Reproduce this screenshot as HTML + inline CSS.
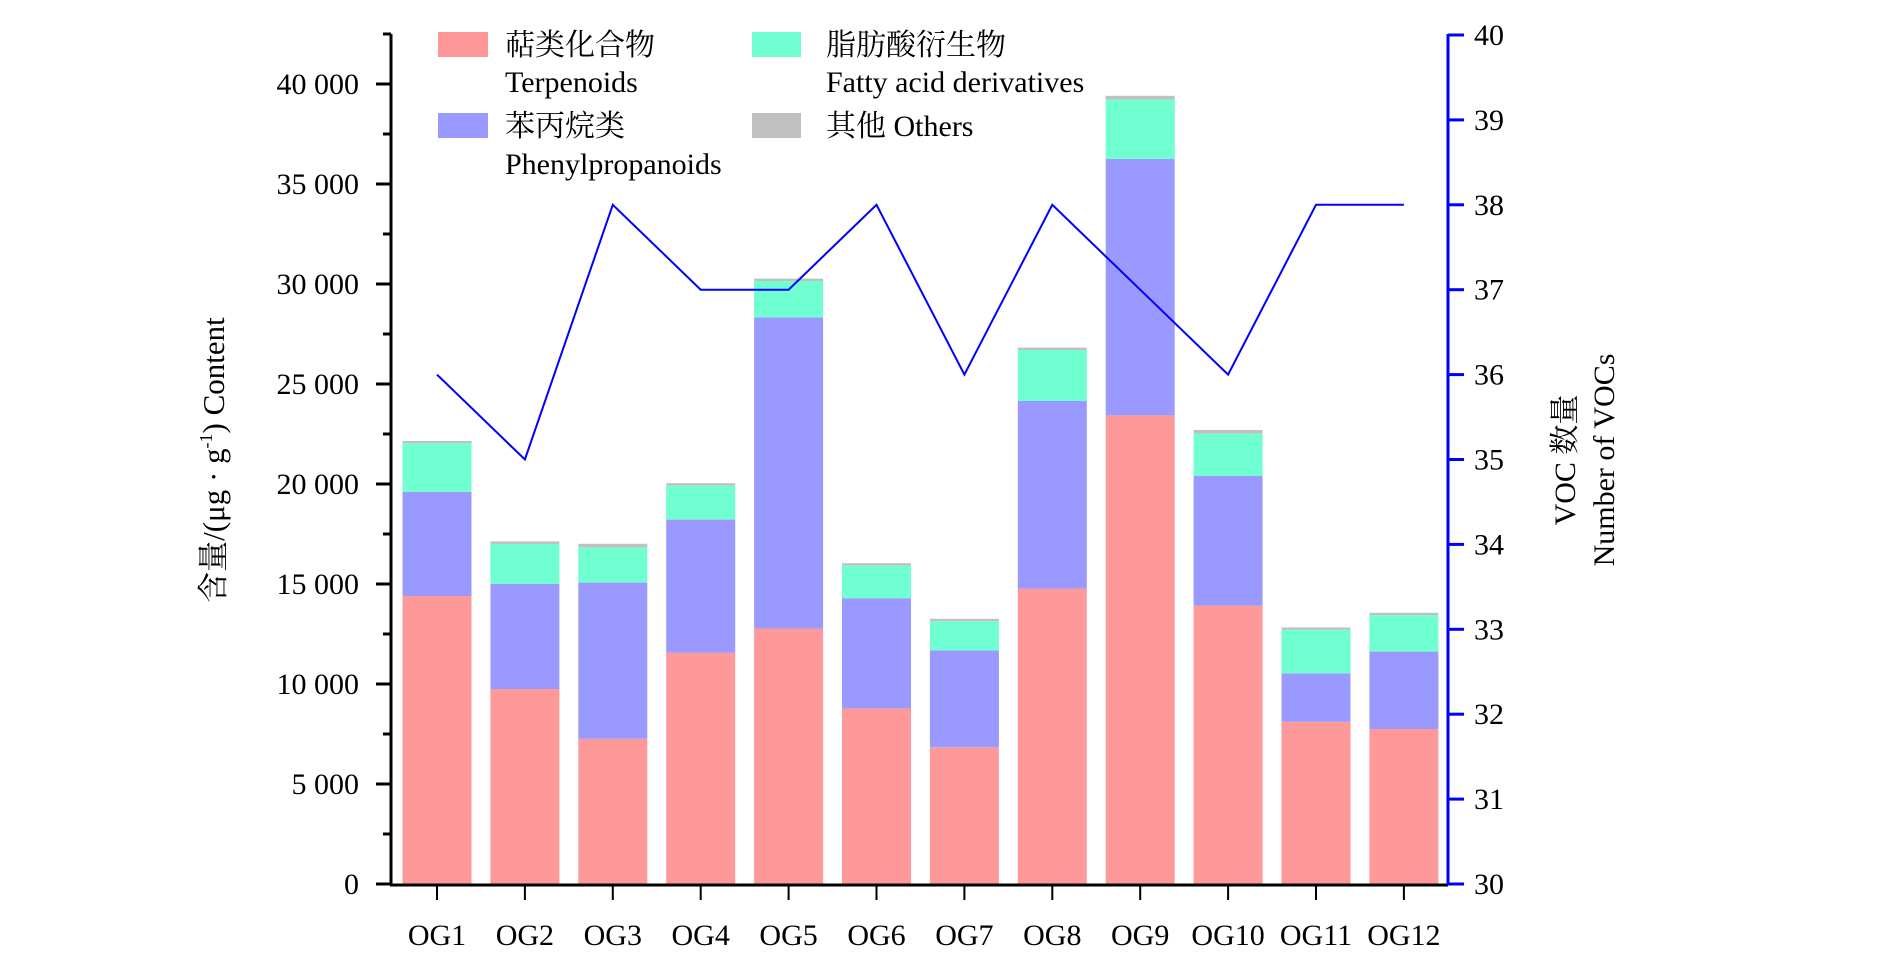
<!DOCTYPE html>
<html><head><meta charset="utf-8"><style>
html,body{margin:0;padding:0;background:#fff;}
svg{display:block;font-family:"Liberation Serif","Noto Serif CJK SC","Noto Sans CJK SC",serif;}
</style></head><body>
<svg width="1890" height="957" viewBox="0 0 1890 957" xmlns="http://www.w3.org/2000/svg">
<g id="bars"></g>
<!-- left axis -->
<line x1="391" y1="34" x2="391" y2="885" stroke="#000" stroke-width="3"/>
<g stroke="#000" stroke-width="3">
<line x1="376" y1="884" x2="391" y2="884"/><line x1="383" y1="834" x2="391" y2="834"/>
<line x1="376" y1="784" x2="391" y2="784"/><line x1="383" y1="734" x2="391" y2="734"/>
<line x1="376" y1="684" x2="391" y2="684"/><line x1="383" y1="634" x2="391" y2="634"/>
<line x1="376" y1="584" x2="391" y2="584"/><line x1="383" y1="534" x2="391" y2="534"/>
<line x1="376" y1="484" x2="391" y2="484"/><line x1="383" y1="434" x2="391" y2="434"/>
<line x1="376" y1="384" x2="391" y2="384"/><line x1="383" y1="334" x2="391" y2="334"/>
<line x1="376" y1="284" x2="391" y2="284"/><line x1="383" y1="234" x2="391" y2="234"/>
<line x1="376" y1="184" x2="391" y2="184"/><line x1="383" y1="134" x2="391" y2="134"/>
<line x1="376" y1="84" x2="391" y2="84"/><line x1="383" y1="34" x2="391" y2="34"/>
</g>
<g font-size="30" text-anchor="end">
<text x="359" y="894">0</text><text x="359" y="794">5 000</text><text x="359" y="694">10 000</text>
<text x="359" y="594">15 000</text><text x="359" y="494">20 000</text><text x="359" y="394">25 000</text>
<text x="359" y="294">30 000</text><text x="359" y="194">35 000</text><text x="359" y="94">40 000</text>
</g>
<!-- bottom axis -->
<line x1="390" y1="885" x2="1448" y2="885" stroke="#000" stroke-width="3"/>
<g id="xt" stroke="#000" stroke-width="2"></g>
<g id="xl" font-size="30" text-anchor="middle"></g>
<!-- right axis -->
<line x1="1448" y1="34" x2="1448" y2="885" stroke="#0000ff" stroke-width="3"/>
<g id="rt" stroke="#0000ff" stroke-width="3"></g>
<g id="rl" font-size="30"></g>
<polyline id="ln" fill="none" stroke="#0000ff" stroke-width="2"/>
<!-- axis titles -->
<text transform="translate(224,460) rotate(-90)" font-size="31" text-anchor="middle">含量/(μg · g<tspan font-size="18" dy="-12">-1</tspan><tspan dy="12">)  Content</tspan></text>
<text transform="translate(1575,460) rotate(-90)" font-size="30" text-anchor="middle">VOC 数量</text>
<text transform="translate(1614,460) rotate(-90)" font-size="30" text-anchor="middle">Number of VOCs</text>
<!-- legend -->
<rect x="438" y="32" width="50" height="25" fill="#ff9999"/>
<rect x="438" y="113" width="50" height="25" fill="#9999ff"/>
<rect x="752" y="32" width="49" height="25" fill="#70ffd0"/>
<rect x="752" y="113" width="49" height="25" fill="#c0c0c0"/>
<g font-size="30">
<text x="505" y="55">萜类化合物</text>
<text x="505" y="92">Terpenoids</text>
<text x="505" y="136">苯丙烷类</text>
<text x="505" y="174">Phenylpropanoids</text>
<text x="826" y="55">脂肪酸衍生物</text>
<text x="826" y="92">Fatty acid derivatives</text>
<text x="826" y="136">其他  Others</text>
</g>
<script>
var d=[[14400,19600,22040,22150],[9750,15010,17000,17130],[7260,15070,16830,17010],[11560,18220,19920,20040],[12770,28330,30150,30270],[8780,14290,15920,16040],[6840,11680,13140,13260],[14770,24150,26700,26820],[23430,36260,39230,39410],[13920,20400,22520,22700],[8110,10530,12710,12830],[7750,11620,13440,13560]];
var L=[36,35,38,37,37,38,36,38,37,36,38,38];
var col=["#ff9999","#9999ff","#70ffd0","#c0c0c0"];
var ns="http://www.w3.org/2000/svg";
function el(t,a,p){var e=document.createElementNS(ns,t);for(var k in a)e.setAttribute(k,a[k]);document.getElementById(p).appendChild(e);return e;}
function Y(v){return 884-v*0.02;}
function YR(v){return 884-(v-30)*84.9;}
var pts=[];
for(var i=0;i<12;i++){var cx=437+i*87.9;var prev=0;
for(var j=0;j<4;j++){el("rect",{x:cx-34.5,y:Y(d[i][j]),width:69,height:Y(prev)-Y(d[i][j]),fill:col[j]},"bars");prev=d[i][j];}
el("line",{x1:cx,y1:885,x2:cx,y2:900},"xt");
var t=el("text",{x:cx,y:945},"xl");t.textContent="OG"+(i+1);
pts.push(cx+","+YR(L[i]));}
document.getElementById("ln").setAttribute("points",pts.join(" "));
for(var v=30;v<=40;v++){var y=YR(v);el("line",{x1:1448,y1:y,x2:1464,y2:y},"rt");var t=el("text",{x:1474,y:y+10},"rl");t.textContent=v;}
</script>
</svg>
</body></html>
